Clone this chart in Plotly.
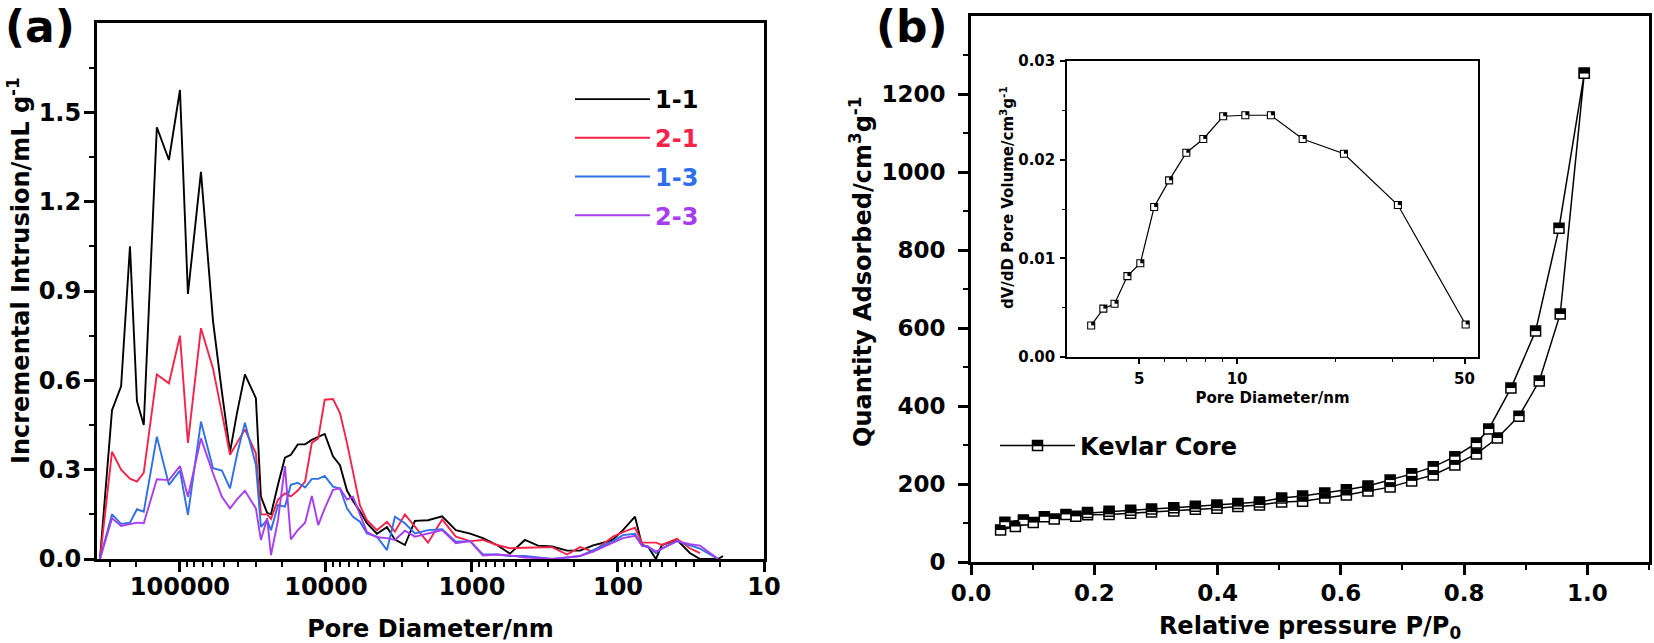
import numpy as np
import plotly.graph_objects as go

# ---------------- Panel (a): mercury intrusion ----------------
pore_diameter_nm = [353000, 292000, 253000, 220000, 197000, 177000, 144000, 119000, 100000, 88200,
                    71800, 59400, 51600, 45400, 40700, 35900, 30200, 27900, 25300, 23800,
                    21300, 19100, 17400, 15600, 13900, 12500, 11300, 10200, 8950, 8020,
                    7180, 6530, 5850, 5240, 4480, 3820, 3370, 2880, 2460, 2000,
                    1600, 1290, 1030, 841, 675, 550, 434, 353, 283, 223,
                    182, 148, 119, 108, 92.5, 76.5, 68.5, 62.4, 55.0, 50.0,
                    39.5, 32.2, 27.4, 20.6, 19.1]

intrusion_1_1 = [0.0, 0.50, 0.58, 1.05, 0.53, 0.45, 1.45, 1.34, 1.575, 0.89,
                 1.30, 0.80, 0.56, 0.36, 0.49, 0.62, 0.54, 0.21, 0.155, 0.15,
                 0.25, 0.34, 0.35, 0.385, 0.385, 0.40, 0.41, 0.42, 0.345, 0.315,
                 0.23, 0.195, 0.16, 0.12, 0.085, 0.107, 0.065, 0.047, 0.128, 0.13,
                 0.143, 0.097, 0.085, 0.07, 0.047, 0.018, 0.064, 0.045, 0.042, 0.028,
                 0.028, 0.046, 0.058, 0.066, 0.097, 0.142, 0.047, 0.042, 0.0, 0.047,
                 0.064, 0.02, 0.0, 0.0, 0.01]

intrusion_2_1 = [0.0, 0.36, 0.30, 0.27, 0.26, 0.29, 0.62, 0.59, 0.75, 0.39,
                 0.775, 0.64, 0.49, 0.35, 0.39, 0.435, 0.355, 0.15, 0.15, 0.135,
                 0.20, 0.22, 0.21, 0.23, 0.26, 0.39, 0.405, 0.535, 0.537, 0.49,
                 0.39, 0.29, 0.18, 0.13, 0.097, 0.125, 0.092, 0.15, 0.11, 0.055,
                 0.133, 0.075, 0.06, 0.064, 0.047, 0.036, 0.038, 0.04, 0.04, 0.015,
                 0.04, 0.025, 0.06, 0.075, 0.09, 0.105, 0.055, 0.055, 0.055, 0.047,
                 0.068, 0.036, 0.02]

intrusion_1_3 = [0.0, 0.15, 0.118, 0.122, 0.167, 0.159, 0.411, 0.249, 0.297, 0.148,
                 0.461, 0.305, 0.297, 0.237, 0.35, 0.458, 0.316, 0.108, 0.131, 0.097,
                 0.181, 0.176, 0.249, 0.256, 0.24, 0.269, 0.269, 0.279, 0.243, 0.237,
                 0.17, 0.142, 0.125, 0.086, 0.075, 0.03, 0.142, 0.12, 0.086, 0.097,
                 0.10, 0.058, 0.06, 0.015, 0.015, 0.01, 0.01, 0.005, 0.0, 0.005,
                 0.01, 0.03, 0.05, 0.06, 0.08, 0.085, 0.045, 0.04, 0.02, 0.035,
                 0.06, 0.045, 0.035, 0.0]

intrusion_2_3 = [0.0, 0.137, 0.111, 0.118, 0.122, 0.12, 0.268, 0.265, 0.312, 0.209,
                 0.405, 0.288, 0.209, 0.17, 0.20, 0.229, 0.17, 0.064, 0.137, 0.013,
                 0.131, 0.312, 0.066, 0.097, 0.122, 0.212, 0.114, 0.17, 0.232, 0.237,
                 0.20, 0.209, 0.15, 0.09, 0.073, 0.07, 0.064, 0.095, 0.075, 0.086,
                 0.097, 0.053, 0.06, 0.012, 0.015, 0.012, 0.005, 0.003, 0.0, 0.005,
                 0.01, 0.025, 0.045, 0.055, 0.07, 0.078, 0.045, 0.042, 0.025, 0.035,
                 0.06, 0.05, 0.045, 0.0]

series_names_a = ["1-1", "2-1", "1-3", "2-3"]
series_values_a = [intrusion_1_1, intrusion_2_1, intrusion_1_3, intrusion_2_3]
series_colors_a = ["#000000", "#F5234A", "#2F6FE8", "#A63DF0"]

a_xtick_vals = [100000, 10000, 1000, 100, 10]
a_xtick_text = ["100000", "10000", "1000", "100", "10"]
a_ytick_vals = [0.0, 0.3, 0.6, 0.9, 1.2, 1.5]

# ---------------- Panel (b): N2 isotherm ----------------
ads_pressure = [0.048, 0.072, 0.101, 0.135, 0.170, 0.189, 0.224, 0.259, 0.293, 0.329,
                0.364, 0.399, 0.433, 0.468, 0.504, 0.538, 0.574, 0.609, 0.644, 0.680,
                0.715, 0.750, 0.785, 0.820, 0.854, 0.889, 0.922, 0.956, 0.995]
ads_quantity = [82, 91, 101, 110, 117, 121, 122, 125, 128, 131,
                135, 138, 142, 146, 154, 156, 164, 172, 182, 192,
                208, 223, 249, 277, 318, 374, 464, 636, 1253]
des_pressure = [0.055, 0.085, 0.119, 0.154, 0.189, 0.224, 0.259, 0.293, 0.329, 0.364,
                0.399, 0.433, 0.468, 0.504, 0.538, 0.574, 0.609, 0.644, 0.680, 0.715,
                0.750, 0.785, 0.820, 0.840, 0.876, 0.916, 0.954, 0.995]
des_quantity = [102, 108, 116, 122, 127, 130, 133, 136, 139, 143,
                146, 150, 154, 164, 169, 177, 185, 195, 210, 226,
                244, 270, 305, 341, 446, 592, 856, 1253]

# inset: BJH pore size distribution
inset_diameter_nm = [3.56, 3.88, 4.20, 4.60, 5.04, 5.56, 6.18, 6.98, 7.87, 9.06,
                     10.6, 12.7, 15.9, 21.3, 31.2, 50.4]
inset_dvdd = [0.0032, 0.0049, 0.0054, 0.0082, 0.0095, 0.0152, 0.0179, 0.0207, 0.0221, 0.0244,
              0.0245, 0.0245, 0.0221, 0.0206, 0.0154, 0.0033]

# ---------------- figure ----------------
W, H = 1654, 643
FONT = "DejaVu Sans"


def fx(p):
    return p / W


def fy(p):
    return 1 - p / H


fig = go.Figure()

for name, vals, col in zip(series_names_a, series_values_a, series_colors_a):
    fig.add_trace(go.Scatter(
        x=pore_diameter_nm[:len(vals)], y=vals, mode="lines",
        name=f'<span style="color:{col}">{name}</span>',
        line=dict(color=col, width=1.9), xaxis="x", yaxis="y",
        legend="legend", legendgroup=name,
    ))

iso_p = ads_pressure + des_pressure[::-1]
iso_q = ads_quantity + des_quantity[::-1]
fig.add_trace(go.Scatter(
    x=iso_p, y=iso_q, mode="lines+markers", name="Kevlar Core", showlegend=False,
    line=dict(color="black", width=1.5),
    marker=dict(symbol="square", size=10, color="white", line=dict(color="black", width=1.5)),
    xaxis="x2", yaxis="y2",
))
# legend entry for panel (b) (transparent marker so the half fill below shows)
fig.add_trace(go.Scatter(
    x=[None], y=[None], mode="lines+markers", name="Kevlar Core",
    line=dict(color="black", width=1.5),
    marker=dict(symbol="square", size=10, color="rgba(255,255,255,0)",
                line=dict(color="black", width=1.5)),
    xaxis="x2", yaxis="y2", legend="legend2",
))

fig.add_trace(go.Scatter(
    x=inset_diameter_nm, y=inset_dvdd, mode="lines+markers", showlegend=False,
    line=dict(color="black", width=1.2),
    marker=dict(symbol="square", size=7, color="white", line=dict(color="black", width=1.1)),
    xaxis="x3", yaxis="y3",
))

# half-filled square markers (top half black)
shapes = []
for p, q in zip(iso_p, iso_q):
    shapes.append(dict(type="rect", xref="x2", yref="y2", xsizemode="pixel", ysizemode="pixel",
                       xanchor=p, yanchor=q, x0=-5, x1=5, y0=0, y1=5,
                       fillcolor="black", line=dict(width=0), layer="above"))
for d, v in zip(inset_diameter_nm, inset_dvdd):
    shapes.append(dict(type="rect", xref="x3", yref="y3", xsizemode="pixel", ysizemode="pixel",
                       xanchor=d, yanchor=v, x0=-3.5, x1=3.5, y0=0, y1=3.5,
                       fillcolor="black", line=dict(width=0), layer="above"))
# same half fill on the legend glyph of panel (b)
shapes.append(dict(type="rect", xref="paper", yref="paper", xsizemode="pixel", ysizemode="pixel",
                   xanchor=fx(1037), yanchor=fy(445), x0=-5, x1=5, y0=0, y1=5,
                   fillcolor="black", line=dict(width=0), layer="above"))

axis_base = dict(showline=True, linecolor="black", mirror=True, ticks="outside",
                 tickcolor="black", showgrid=False, zeroline=False, automargin=False)

a_minor_x = [m * 10 ** k for k in range(1, 6) for m in range(2, 10) if m * 10 ** k < 370000]
a_minor_y = [0.15, 0.45, 0.75, 1.05, 1.35, 1.65]

fig.update_layout(
    width=W, height=H, margin=dict(l=0, r=0, t=0, b=0),
    paper_bgcolor="white", plot_bgcolor="white",
    font=dict(family=FONT, weight="bold", color="black", size=24),
    xaxis=dict(axis_base, domain=[fx(97), fx(764)], anchor="y", type="log",
               range=[np.log10(370000), 1], linewidth=3, ticklen=10, tickwidth=2.5,
               tickvals=a_xtick_vals, ticktext=a_xtick_text, ticklabelstandoff=-6,
               tickfont=dict(size=24),
               minor=dict(ticks="outside", ticklen=5, tickwidth=2, tickcolor="black",
                          tickvals=a_minor_x),
               title=dict(text="Pore Diameter/nm", font=dict(size=24), standoff=22)),
    yaxis=dict(axis_base, domain=[fy(559), fy(23)], anchor="x", range=[0, 1.8],
               linewidth=3, ticklen=10, tickwidth=2.5, tickvals=a_ytick_vals,
               tickformat=".1f", ticklabelstandoff=-2, tickfont=dict(size=24),
               minor=dict(ticks="outside", ticklen=5, tickwidth=2, tickcolor="black",
                          tickvals=a_minor_y)),
    xaxis2=dict(axis_base, domain=[fx(971), fx(1649)], anchor="y2", range=[0, 1.1],
                linewidth=3, ticklen=10, tickwidth=2.5, dtick=0.2, tick0=0,
                tickformat=".1f", ticklabelstandoff=-2, tickfont=dict(size=23),
                minor=dict(ticks="outside", ticklen=5, tickwidth=2, tickcolor="black", dtick=0.1),
                title=dict(text="Relative pressure P/P<sub>0</sub>", font=dict(size=24),
                           standoff=21)),
    yaxis2=dict(axis_base, domain=[fy(562), fy(16)], anchor="x2", range=[0, 1400],
                linewidth=3, ticklen=10, tickwidth=2.5,
                tickvals=[0, 200, 400, 600, 800, 1000, 1200], ticklabelstandoff=8,
                tickfont=dict(size=23),
                minor=dict(ticks="outside", ticklen=5, tickwidth=2, tickcolor="black",
                           tickvals=[100, 300, 500, 700, 900, 1100, 1300])),
    xaxis3=dict(axis_base, domain=[fx(1067), fx(1478)], anchor="y3", type="log",
                range=[np.log10(3.0), np.log10(55)], linewidth=1.5, ticklen=5, tickwidth=1.5,
                tickvals=[5, 10, 50], ticktext=["5", "10", "50"], tickfont=dict(size=15),
                ticklabelstandoff=2,
                minor=dict(ticks="outside", ticklen=3, tickwidth=1.2, tickcolor="black",
                           tickvals=[6, 7, 8, 9, 20, 30, 40]),
                title=dict(text="Pore Diameter/nm", font=dict(size=15), standoff=6)),
    yaxis3=dict(axis_base, domain=[fy(357), fy(61)], anchor="x3", range=[0, 0.03],
                linewidth=1.5, ticklen=5, tickwidth=1.5, tickvals=[0, 0.01, 0.02, 0.03],
                tickformat=".2f", tickfont=dict(size=15), ticklabelstandoff=2,
                minor=dict(ticks="outside", ticklen=3, tickwidth=1.2, tickcolor="black",
                           tickvals=[0.005, 0.015, 0.025])),
    legend=dict(x=fx(570), y=fy(77), xanchor="left", yanchor="top", bgcolor="rgba(0,0,0,0)",
                font=dict(size=24), itemwidth=75, tracegroupgap=4.5, traceorder="grouped"),
    legend2=dict(x=fx(995), y=fy(446), xanchor="left", yanchor="middle",
                 bgcolor="rgba(0,0,0,0)", font=dict(size=24), itemwidth=75),
    shapes=shapes,
    annotations=[
        dict(text="(a)", x=fx(40), y=fy(27), xref="paper", yref="paper", showarrow=False,
             xanchor="center", yanchor="middle",
             font=dict(size=44, family=FONT, weight="bold")),
        dict(text="(b)", x=fx(912), y=fy(27), xref="paper", yref="paper", showarrow=False,
             xanchor="center", yanchor="middle",
             font=dict(size=44, family=FONT, weight="bold")),
        # vertical axis titles
        dict(text="Incremental Intrusion/mL g<sup>-1</sup>", x=fx(19), y=fy(271),
             xref="paper", yref="paper", showarrow=False, textangle=-90,
             xanchor="center", yanchor="middle", font=dict(size=24)),
        dict(text="Quantity Adsorbed/cm<sup>3</sup>g<sup>-1</sup>", x=fx(861), y=fy(272),
             xref="paper", yref="paper", showarrow=False, textangle=-90,
             xanchor="center", yanchor="middle", font=dict(size=24)),
        dict(text="dV/dD Pore Volume/cm<sup>3</sup>g<sup>-1</sup>", x=fx(1007), y=fy(197),
             xref="paper", yref="paper", showarrow=False, textangle=-90,
             xanchor="center", yanchor="middle", font=dict(size=15)),
    ],
)

fig.write_html("out.html", config={"displayModeBar": False},
               post_script="document.body.style.margin='0px';")
